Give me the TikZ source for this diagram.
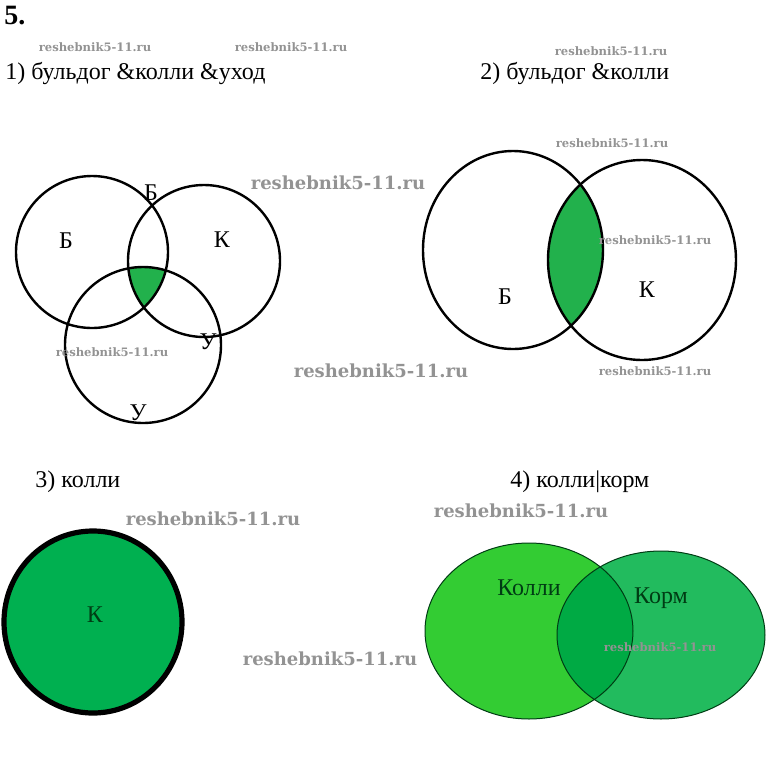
\documentclass[tikz,border=0pt]{standalone}
\usepackage{fontspec}
\setmainfont{Liberation Serif}
\newfontfamily\wmfont{DejaVu Serif}
\usepackage{tikz}
\usepackage{xcolor}
\definecolor{PaintGreen}{RGB}{34, 177, 76}
\definecolor{FullGreen}{RGB}{0, 176, 80}
\definecolor{ColliGreen}{RGB}{51, 204, 51}
\definecolor{FeedGreen}{RGB}{34, 187, 94}
\definecolor{BothGreen}{RGB}{0, 170, 68}
\definecolor{LabelGreen}{RGB}{0, 60, 20}

\tikzset{
  lbl/.style = {font=\fontsize{12}{14}\selectfont, inner sep=0pt},
  wm/.style = {font=\wmfont\bfseries\fontsize{5.8}{7}\selectfont, text=gray!85, inner sep=0pt},
  wmbig/.style = {font=\wmfont\bfseries\fontsize{9}{11}\selectfont, text=gray!85, inner sep=0pt}
}

\begin{document}
\begin{tikzpicture}[x = 0.5pt, y = -0.5pt]
    \useasboundingbox (0, 0) rectangle (770, 778);
    %заголовки
    \node[lbl, font=\bfseries\fontsize{14}{16}\selectfont, anchor=west] (num) at (4, 16) {5.};
    \node[lbl, anchor=west] (t1) at (5, 73) {1) бульдог \&колли \&уход};
    \node[lbl, anchor=west] (t2) at (480, 73) {2) бульдог \&колли};
    \node[lbl, anchor=west] (t3) at (35, 482) {3) колли};
    \node[lbl, anchor=west] (t4) at (510, 482) {4) колли|корм};

    %1) три круга
    \begin{scope}
        \clip (92, 252) circle (76);
        \clip (204, 261) circle (76);
        \fill[PaintGreen] (143, 345) circle (78);
    \end{scope}
    \draw[line width = 1.2pt] (92, 252) circle (76);
    \draw[line width = 1.2pt] (204, 261) circle (76);
    \draw[line width = 1.2pt] (143, 345) circle (78);
    \node[lbl] (b1) at (66, 241) {Б};
    \node[lbl] (b1top) at (151, 193) {Б};
    \node[lbl] (k1) at (222, 240) {К};
    \node[lbl] (u1) at (208, 342) {У};
    \node[lbl] (u1bot) at (138, 413) {У};

    %2) два эллипса
    \begin{scope}
        \clip (513, 250) ellipse (90 and 99);
        \fill[PaintGreen] (642, 260) ellipse (94 and 100);
    \end{scope}
    \draw[line width = 1.2pt] (513, 250) ellipse (90 and 99);
    \draw[line width = 1.2pt] (642, 260) ellipse (94 and 100);
    \node[lbl] (b2) at (505, 297) {Б};
    \node[lbl] (k2) at (647, 290) {К};

    %3) один круг
    \filldraw[fill = FullGreen, line width = 2.6pt] (93, 622) ellipse (89 and 91);
    \node[lbl, text = LabelGreen] (k3) at (95, 615) {К};

    %4) колли и корм
    \fill[ColliGreen] (529, 631) ellipse (104 and 88);
    \fill[FeedGreen] (661, 635) ellipse (104 and 84);
    \begin{scope}
        \clip (529, 631) ellipse (104 and 88);
        \fill[BothGreen] (661, 635) ellipse (104 and 84);
    \end{scope}
    \draw[LabelGreen, line width = 0.5pt] (529, 631) ellipse (104 and 88);
    \draw[LabelGreen, line width = 0.5pt] (661, 635) ellipse (104 and 84);
    \node[lbl, text = LabelGreen] (kol) at (529, 588) {Колли};
    \node[lbl, text = LabelGreen] (korm) at (661, 598) {Корм};

    %водяные знаки
    \node[wm] (w1) at (95, 47) {reshebnik5-11.ru};
    \node[wm] (w2) at (291, 47) {reshebnik5-11.ru};
    \node[wm] (w3) at (611, 51) {reshebnik5-11.ru};
    \node[wm] (w4) at (612, 143) {reshebnik5-11.ru};
    \node[wm] (w5) at (655, 240) {reshebnik5-11.ru};
    \node[wm] (w6) at (112, 352) {reshebnik5-11.ru};
    \node[wm] (w7) at (655, 371) {reshebnik5-11.ru};
    \node[wm] (w8) at (660, 647) {reshebnik5-11.ru};
    \node[wmbig] (w9) at (338, 183) {reshebnik5-11.ru};
    \node[wmbig] (w10) at (381, 371) {reshebnik5-11.ru};
    \node[wmbig] (w11) at (213, 519) {reshebnik5-11.ru};
    \node[wmbig] (w12) at (521, 511) {reshebnik5-11.ru};
    \node[wmbig] (w13) at (330, 659) {reshebnik5-11.ru};
\end{tikzpicture}
\end{document}
